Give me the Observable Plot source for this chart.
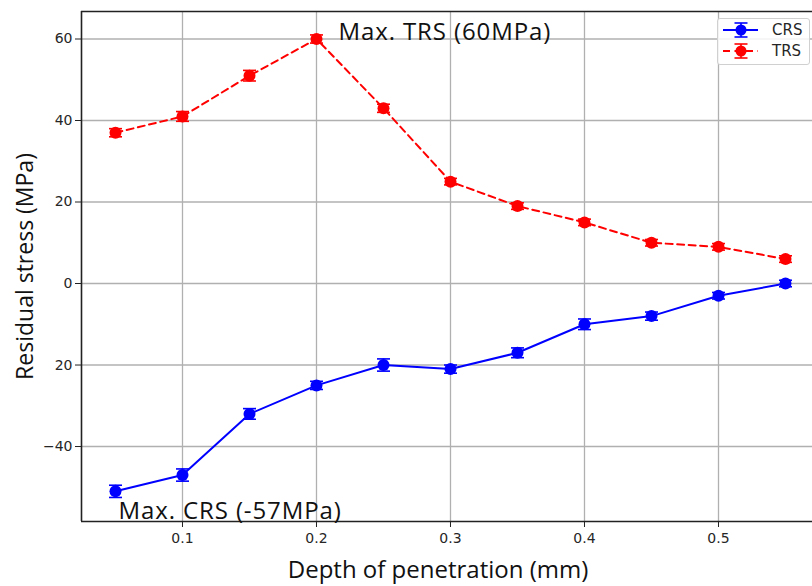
<!DOCTYPE html>
<html><head><meta charset="utf-8">
<script src="https://cdn.jsdelivr.net/npm/d3@7"></script>
<script src="https://cdn.jsdelivr.net/npm/@observablehq/plot@0.6"></script>
<style>
body{margin:0;background:#fff;}
#wrap{position:relative;width:812px;height:586px;overflow:hidden;background:#fff;}
#legend{position:absolute;left:717px;top:18px;width:93px;height:47px;box-sizing:border-box;border:1px solid #d0d0d0;border-radius:3px;background:rgba(255,255,255,0.85);}
</style>
</head><body>
<div id="wrap"></div>
<script>
// ---- data ----
const depth = [0.05, 0.10, 0.15, 0.20, 0.25, 0.30, 0.35, 0.40, 0.45, 0.50, 0.55];
const trs    = [37, 41, 51, 60, 43, 25, 19, 15, 10, 9, 6];
const trsErr = [1.0, 1.2, 1.3, 1.0, 1.0, 0.8, 0.8, 0.8, 0.8, 0.8, 0.8];
const crs    = [-51, -47, -32, -25, -20, -21, -17, -10, -8, -3, 0];
const crsErr = [1.5, 1.5, 1.3, 1.0, 1.5, 1.0, 1.2, 1.3, 1.0, 0.8, 0.8];
const seriesNames = ["CRS", "TRS"];
const seriesColors = ["#0000ff", "#ff0000"];
const yTicks = [-40, -20, 0, 20, 40, 60];
const yTickLabels = ["\u221240", "20", "0", "20", "40", "60"];
const xTicks = [0.1, 0.2, 0.3, 0.4, 0.5];
const xTickLabels = ["0.1", "0.2", "0.3", "0.4", "0.5"];
const annotations = [
  {x: 0.2164, y: 61.6, text: "Max. TRS (60MPa)"},
  {x: 0.0522, y: -55.8, text: "Max. CRS (-57MPa)"}
];
const xLabel = "Depth of penetration (mm)";
const yLabel = "Residual stress (MPa)";

// ---- build table ----
const rows = [];
depth.forEach((d, i) => {
  rows.push({x: d, y: crs[i], err: crsErr[i], s: "CRS"});
  rows.push({x: d, y: trs[i], err: trsErr[i], s: "TRS"});
});
const caps = rows.flatMap(r => [{...r, y: r.y - r.err}, {...r, y: r.y + r.err}]);
const capSymbol = {draw(ctx, size) { const r = Math.sqrt(size / Math.PI); ctx.moveTo(-r, 0); ctx.lineTo(r, 0); }};

const xDomain = [0.02463, 0.57015];
const yDomain = [-58.4, 66.75];
const color = {domain: seriesNames, range: seriesColors};

const plot = Plot.plot({
  width: 812, height: 586,
  marginLeft: 81, marginRight: 0, marginTop: 11, marginBottom: 65,
  style: {fontFamily: "DejaVu Sans, sans-serif", background: "#fff", color: "#262626"},
  x: {domain: xDomain},
  y: {domain: yDomain},
  color,
  marks: [
    Plot.gridY(yTicks, {stroke: "#b0b0b0", strokeOpacity: 1, strokeWidth: 1.3}),
    Plot.gridX(xTicks, {stroke: "#b0b0b0", strokeOpacity: 1, strokeWidth: 1.3}),
    Plot.ruleX(rows, {x: "x", y1: d => d.y - d.err, y2: d => d.y + d.err, stroke: "s", strokeWidth: 1.6}),
    Plot.dot(caps, {x: "x", y: "y", symbol: capSymbol, r: 6.5, stroke: "s", strokeWidth: 1.6, fill: "none"}),
    Plot.line(rows.filter(d => d.s === "CRS"), {x: "x", y: "y", stroke: "s", strokeWidth: 2}),
    Plot.line(rows.filter(d => d.s === "TRS"), {x: "x", y: "y", stroke: "s", strokeWidth: 2, strokeDasharray: "7,4.5"}),
    Plot.dot(rows, {x: "x", y: "y", fill: "s", r: 6, stroke: "none"}),
    Plot.ruleY([yDomain[1]], {stroke: "#222", strokeWidth: 1.6}),
    Plot.ruleY([yDomain[0]], {stroke: "#222", strokeWidth: 1.6}),
    Plot.ruleX([xDomain[0]], {stroke: "#222", strokeWidth: 1.6}),
    Plot.axisY(yTicks, {tickSize: 6, tickPadding: 3, fontSize: 14, tickFormat: (d, i) => yTickLabels[i], stroke: "#222", label: null}),
    Plot.axisX(xTicks, {tickSize: 6, tickPadding: 6, fontSize: 14, tickFormat: (d, i) => xTickLabels[i], stroke: "#222", label: null}),
    Plot.text(annotations, {x: "x", y: "y", text: "text", textAnchor: "start", fontSize: 24, fontFamily: "Open Sans", fill: "#111"}),
    Plot.text([xLabel], {frameAnchor: "bottom", textAnchor: "middle", dx: -9, dy: 56, text: d => d, fontSize: 24, fontFamily: "Open Sans", fill: "#111"}),
    Plot.text([yLabel], {frameAnchor: "left", textAnchor: "middle", dx: -56, rotate: -90, text: d => d, fontSize: 23, fontFamily: "Open Sans", fill: "#111"})
  ]
});
const wrap = document.getElementById("wrap");
wrap.appendChild(plot);
// letter-spacing on annotations
d3.select(plot).selectAll("text").filter(function(){ return /^Max\./.test(this.textContent); }).style("letter-spacing", "0.9px");

// ---- legend ----
const leg = document.createElement("div");
leg.id = "legend";
wrap.appendChild(leg);
const svg = d3.select(leg).append("svg").attr("width", 91).attr("height", 45);
seriesNames.forEach((name, i) => {
  const g = svg.append("g").attr("transform", `translate(0,${11 + i * 21})`);
  const c = seriesColors[i];
  g.append("line").attr("x1", 5).attr("x2", 40).attr("y1", 0).attr("y2", 0).attr("stroke", c).attr("stroke-width", 2)
    .attr("stroke-dasharray", name === "TRS" ? "7,4.5" : null);
  g.append("line").attr("x1", 23).attr("x2", 23).attr("y1", -7).attr("y2", 7).attr("stroke", c).attr("stroke-width", 1.6);
  g.append("line").attr("x1", 16.5).attr("x2", 29.5).attr("y1", -7).attr("y2", -7).attr("stroke", c).attr("stroke-width", 1.6);
  g.append("line").attr("x1", 16.5).attr("x2", 29.5).attr("y1", 7).attr("y2", 7).attr("stroke", c).attr("stroke-width", 1.6);
  g.append("circle").attr("cx", 23).attr("cy", 0).attr("r", 5.5).attr("fill", c);
  g.append("text").attr("x", 54).attr("y", 0).attr("dy", "0.35em").attr("font-size", 15).attr("font-family", "DejaVu Sans, sans-serif").attr("fill", "#262626").text(name);
});
</script>
</body></html>
